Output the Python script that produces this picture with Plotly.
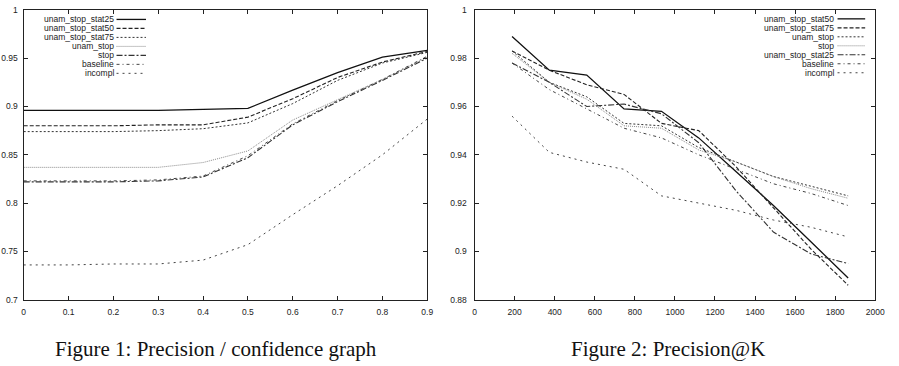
import plotly.graph_objects as go

# ---------------- Data: Figure 1 (precision vs confidence) ----------------
conf = [0, 0.1, 0.2, 0.3, 0.4, 0.5, 0.6, 0.7, 0.8, 0.9]
f1_names = ["unam_stop_stat25", "unam_stop_stat50", "unam_stop_stat75",
            "unam_stop", "stop", "baseline", "incompl"]
f1_stat25 = [0.896, 0.896, 0.896, 0.896, 0.897, 0.898, 0.917, 0.935, 0.951, 0.958]
f1_stat50 = [0.880, 0.880, 0.880, 0.881, 0.881, 0.889, 0.908, 0.930, 0.946, 0.957]
f1_stat75 = [0.874, 0.874, 0.874, 0.875, 0.877, 0.883, 0.903, 0.927, 0.945, 0.956]
f1_unam_stop = [0.837, 0.837, 0.837, 0.837, 0.842, 0.854, 0.886, 0.907, 0.928, 0.951]
f1_stop = [0.822, 0.822, 0.822, 0.823, 0.827, 0.847, 0.881, 0.905, 0.927, 0.950]
f1_baseline = [0.823, 0.823, 0.823, 0.824, 0.828, 0.849, 0.882, 0.906, 0.928, 0.952]
f1_incompl = [0.736, 0.736, 0.737, 0.737, 0.741, 0.757, 0.788, 0.818, 0.850, 0.887]

# ---------------- Data: Figure 2 (precision@K) ----------------
k_vals = [187, 373, 560, 746, 933, 1119, 1306, 1492, 1679, 1865]
f2_names = ["unam_stop_stat50", "unam_stop_stat75", "unam_stop", "stop",
            "unam_stop_stat25", "baseline", "incompl"]
f2_stat50 = [0.989, 0.975, 0.973, 0.959, 0.958, 0.947, 0.933, 0.919, 0.904, 0.889]
f2_stat75 = [0.983, 0.975, 0.969, 0.965, 0.953, 0.950, 0.935, 0.918, 0.901, 0.886]
f2_unam_stop = [0.983, 0.970, 0.964, 0.953, 0.952, 0.943, 0.937, 0.931, 0.927, 0.923]
f2_stop = [0.982, 0.970, 0.963, 0.952, 0.951, 0.942, 0.937, 0.931, 0.926, 0.922]
f2_stat25 = [0.978, 0.970, 0.960, 0.961, 0.957, 0.945, 0.925, 0.908, 0.899, 0.895]
f2_baseline = [0.978, 0.967, 0.959, 0.951, 0.947, 0.940, 0.934, 0.928, 0.924, 0.919]
f2_incompl = [0.956, 0.941, 0.937, 0.934, 0.923, 0.920, 0.917, 0.913, 0.910, 0.906]

f1_series = [f1_stat25, f1_stat50, f1_stat75, f1_unam_stop, f1_stop, f1_baseline, f1_incompl]
f2_series = [f2_stat50, f2_stat75, f2_unam_stop, f2_stop, f2_stat25, f2_baseline, f2_incompl]

# gnuplot-like line styles by plotting order
styles = [
    dict(color="#111111", dash="solid", width=1.3),
    dict(color="#222222", dash="4px,2px", width=1.1),
    dict(color="#333333", dash="2px,2px", width=1.0),
    dict(color="#8a8a8a", dash="1px,1px", width=1.0),
    dict(color="#333333", dash="6px,2px,2px,2px", width=1.1),
    dict(color="#444444", dash="3px,3px,1px,3px", width=1.0),
    dict(color="#444444", dash="2px,4px", width=1.0),
]

fig = go.Figure()

for name, ys, st in zip(f1_names, f1_series, styles):
    fig.add_trace(go.Scatter(x=conf, y=ys, mode="lines", name=name, line=st,
                             xaxis="x", yaxis="y", showlegend=False))
for name, ys, st in zip(f2_names, f2_series, styles):
    fig.add_trace(go.Scatter(x=k_vals, y=ys, mode="lines", name=name, line=st,
                             xaxis="x2", yaxis="y2", showlegend=False))

W, H = 899, 366
ydom = [1 - 303 / H, 1 - 5 / H]
axis_common = dict(showgrid=False, zeroline=False, showline=True, linecolor="#222",
                   linewidth=1.4, mirror="ticks", ticks="inside", ticklen=4,
                   tickcolor="#222", tickwidth=1, ticklabeloverflow="allow",
                   tickfont=dict(family="Liberation Sans, Arial", size=8.5, color="#222"))

fig.update_layout(
    width=W, height=H, margin=dict(l=0, r=0, t=0, b=0),
    paper_bgcolor="white", plot_bgcolor="white",
    xaxis=dict(domain=[22 / W, 431 / W], range=[0, 0.9000001], dtick=0.1, tick0=0,
               anchor="y", ticklabelstandoff=4, **axis_common),
    yaxis=dict(domain=ydom, range=[0.7, 1.0000001], dtick=0.05, tick0=0.7,
               anchor="x", ticklabelstandoff=3, **axis_common),
    xaxis2=dict(domain=[479 / W, 885 / W], range=[0, 2000], dtick=200, tick0=0,
                anchor="y2", ticklabelstandoff=4, **axis_common),
    yaxis2=dict(domain=ydom, range=[0.88, 1.0000001], dtick=0.02, tick0=0.88,
                anchor="x2", ticklabelstandoff=5, **axis_common),
)

# manual gnuplot-style legends (text right-aligned, sample line to the right)
def add_legend(names, xref, yref, text_x, s0, s1, y0, step):
    for i, (name, st) in enumerate(zip(names, styles)):
        yy = y0 - i * step
        fig.add_annotation(x=text_x, y=yy, xref=xref, yref=yref, text=name,
                           showarrow=False, xanchor="right", yanchor="middle",
                           borderpad=0,
                           font=dict(family="Liberation Sans, Arial", size=8.5, color="#222"))
        fig.add_shape(type="line", xref=xref, yref=yref, x0=s0, x1=s1, y0=yy, y1=yy,
                      line=dict(color=st["color"], dash=st["dash"], width=st["width"]))

add_legend(f1_names, "x domain", "y domain", 0.225, 0.230, 0.303, 0.967, 0.031)
add_legend(f2_names, "x2 domain", "y2 domain", 0.899, 0.906, 0.975, 0.969, 0.031)

cap_font = dict(family="Liberation Serif, Times New Roman", size=21, color="#111")
fig.add_annotation(x=217 / W, y=1 - 340 / H, xref="paper", yref="paper",
                   text="Figure 1: Precision / confidence graph", showarrow=False,
                   xanchor="center", yanchor="top", borderpad=0, font=cap_font)
fig.add_annotation(x=675 / W, y=1 - 340 / H, xref="paper", yref="paper",
                   text="Figure 2: Precision@K", showarrow=False,
                   xanchor="center", yanchor="top", borderpad=0, font=cap_font)

fig.write_html("out.html")
